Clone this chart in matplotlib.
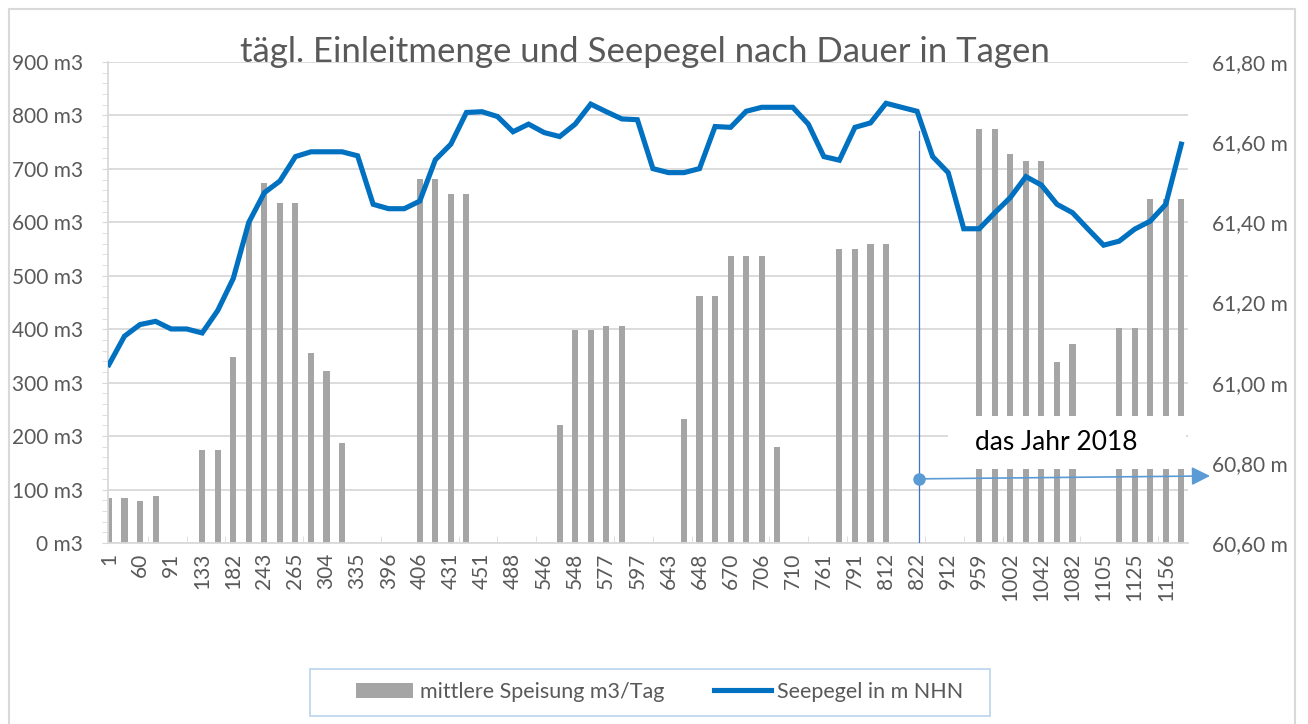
import numpy as np
import matplotlib.pyplot as plt
from matplotlib.patches import Rectangle
from matplotlib.ticker import MultipleLocator, FuncFormatter

plt.rcParams['font.family'] = ['Lato', 'DejaVu Sans']

# daily inflow (bars, m3/day) for each of the 70 periods
speisung = [85, 85, 79, 88, 0, 0, 174, 174, 348, 600,
            673, 636, 636, 355, 322, 188, 0, 0, 0, 0,
            681, 681, 653, 653, 0, 0, 0, 0, 0, 221,
            399, 399, 406, 406, 0, 0, 0, 232, 463, 463,
            537, 537, 537, 180, 0, 0, 0, 551, 551, 559,
            559, 0, 0, 0, 0, 0, 775, 775, 727, 714,
            714, 338, 373, 0, 0, 402, 402, 644, 644, 644]
# lake level in m NHN
seepegel = [61.045, 61.116, 61.145, 61.153, 61.134, 61.134, 61.124, 61.18, 61.26, 61.40,
            61.474, 61.503, 61.564, 61.576, 61.576, 61.576, 61.566, 61.445, 61.434, 61.434,
            61.453, 61.556, 61.595, 61.674, 61.676, 61.664, 61.626, 61.645, 61.624, 61.614,
            61.645, 61.695, 61.676, 61.658, 61.656, 61.534, 61.524, 61.524, 61.534, 61.639,
            61.637, 61.677, 61.687, 61.687, 61.687, 61.645, 61.564, 61.555, 61.637, 61.648,
            61.697, 61.687, 61.677, 61.564, 61.524, 61.384, 61.384, 61.424, 61.462, 61.514,
            61.493, 61.445, 61.424, 61.383, 61.343, 61.353, 61.383, 61.403, 61.445, 61.595]
# every second category is labelled on the axis
tage = ['1', '60', '91', '133', '182', '243', '265', '304', '335', '396', '406', '431',
        '451', '488', '546', '548', '577', '597', '643', '648', '670', '706', '710', '761',
        '791', '812', '822', '912', '959', '1002', '1042', '1082', '1105', '1125', '1156']

grau = '#595959'
hell = '#D9D9D9'
fs = 15
x = np.arange(len(speisung))

fig = plt.figure(figsize=(13.08, 7.24), dpi=100)
ax = fig.add_axes([108/1308, 1-543/724, 1080/1308, 481/724])

# chart border
fig.patches.append(Rectangle((9/1308, -0.1), 1286/1308, 1.1 - 9/724, transform=fig.transFigure,
                             fill=False, edgecolor=hell, lw=1.5))

bars = ax.bar(x, speisung, width=0.39, color='#A5A5A5', zorder=2, label='mittlere Speisung m3/Tag')
ax.set_xlim(-0.06, 69.43)
ax.set_ylim(0, 900)
ax.set_axisbelow(True)
ax.yaxis.grid(True, color=hell, lw=1.3)
ax.set_yticks(np.arange(0, 901, 100))
ax.yaxis.set_minor_locator(MultipleLocator(20))
ax.yaxis.set_major_formatter(FuncFormatter(lambda v, p: f'{int(v)} m3'))
ax.tick_params(axis='y', which='both', length=4, color=hell, labelsize=fs, labelcolor=grau, pad=14)
ax.set_xticks(x[::2])
ax.set_xticklabels(tage, rotation=90)
ax.set_xticks(np.arange(2.5, 69, 2.5), minor=True)
ax.tick_params(axis='x', which='major', length=0, labelsize=fs, labelcolor=grau, pad=7)
ax.tick_params(axis='x', which='minor', direction='in', length=5, color=hell)
for s in ['top', 'right']:
    ax.spines[s].set_visible(False)
ax.spines['left'].set_color(hell)
ax.spines['bottom'].set_color(hell)
ax.spines['left'].set_linewidth(1.3)
ax.spines['bottom'].set_linewidth(1.3)

# annotation for 2018
ax.plot([52.1, 52.1], [0, 770], color='#4472C4', lw=0.9, zorder=4)
ax.add_patch(Rectangle((54.0, 138.6), 15.3, 99.4, facecolor='white', edgecolor='none', zorder=3))
ax.text(55.7, 188, 'das Jahr 2018', fontsize=19, color='black', va='center', zorder=4)
ax.annotate('', xy=(70.85, 125.5), xytext=(52.1, 120), annotation_clip=False, zorder=5,
            arrowprops=dict(arrowstyle='-|>', color='#5B9BD5', lw=1.2, mutation_scale=28,
                            shrinkA=0, shrinkB=0))
ax.plot(52.1, 120, 'o', ms=8, color='#5B9BD5', zorder=6)

ax2 = ax.twinx()
line, = ax2.plot(x, seepegel, color='#0070C0', lw=3.7, solid_joinstyle='miter', label='Seepegel in m NHN')
ax2.set_ylim(60.6, 61.8)
ax2.set_yticks(np.arange(60.6, 61.81, 0.2))
ax2.yaxis.set_major_formatter(FuncFormatter(lambda v, p: f'{v:.2f} m'.replace('.', ',')))
ax2.tick_params(axis='y', length=0, labelsize=fs, labelcolor=grau, pad=17)
for s in ax2.spines.values():
    s.set_visible(False)

fig.text(0.493, 1-52/724, 'tägl. Einleitmenge und Seepegel nach Dauer in Tagen',
         ha='center', va='center', fontsize=25, color=grau)

# legend with a wide frame like the original
fig.patches.append(Rectangle((310/1308, 1-716/724), 680/1308, 47/724, transform=fig.transFigure,
                             fill=False, edgecolor='#BDD7EE', lw=1.3))
leg = fig.legend([bars, line], ['mittlere Speisung m3/Tag', 'Seepegel in m NHN'],
                 loc='center', bbox_to_anchor=(660/1308, 1-692/724), ncol=2, fontsize=15.5,
                 frameon=False, handlelength=2.65, handletextpad=0.3,
                 columnspacing=2.3, borderaxespad=0)
for t in leg.get_texts():
    t.set_color(grau)

fig.savefig('out.png', dpi=100)
